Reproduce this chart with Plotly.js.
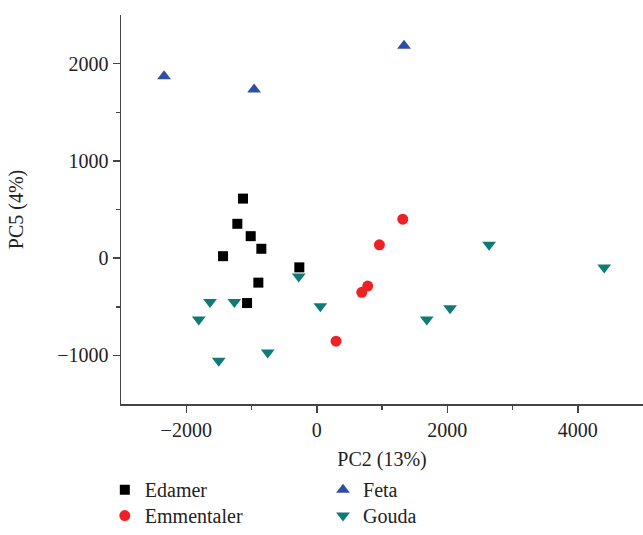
<!DOCTYPE html>
<html>
<head>
<meta charset="utf-8">
<script src="https://cdn.plot.ly/plotly-3.0.1.min.js"></script>
<style>html,body{margin:0;padding:0;background:#fff;}#chart{width:643px;height:535px;}</style>
</head>
<body>
<div id="chart"></div>
<script>
// Edamer
const edamerX = [-1130, -1217, -1012, -849, -1436, -895, -1068, -267];
const edamerY = [612, 353, 226, 96, 20, -252, -462, -95];
// Emmentaler
const emmentalerX = [1318, 960, 781, 690, 296];
const emmentalerY = [400, 137, -287, -352, -854];
// Feta
const fetaX = [-2340, -960, 1338];
const fetaY = [1870, 1735, 2185];
// Gouda
const goudaX = [-1636, -1263, -1808, -1502, -751, -276, 55, 1686, 2043, 2641, 4405];
const goudaY = [-450, -450, -630, -1055, -970, -190, -495, -630, -515, 138, -97];

const xTitle = 'PC2 (13%)';
const yTitle = 'PC5 (4%)';

const FONT = 'Liberation Serif, Times New Roman, serif';

const traces = [
  {x: edamerX, y: edamerY, name: 'Edamer', type: 'scatter', mode: 'markers', legend: 'legend',
   marker: {symbol: 'square', size: 10, color: '#000000'}},
  {x: emmentalerX, y: emmentalerY, name: 'Emmentaler', type: 'scatter', mode: 'markers', legend: 'legend3',
   marker: {symbol: 'circle', size: 11, color: '#ec2227'}},
  {x: fetaX, y: fetaY, name: 'Feta', type: 'scatter', mode: 'markers', legend: 'legend2',
   marker: {symbol: 'triangle-up', size: 12, color: '#2e4ea3'}},
  {x: goudaX, y: goudaY, name: 'Gouda', type: 'scatter', mode: 'markers', legend: 'legend4',
   marker: {symbol: 'triangle-down', size: 12, color: '#0f7b78'}}
];

const axisCommon = {
  showgrid: false, zeroline: false, showline: true, linecolor: '#444', linewidth: 1.5,
  ticks: 'outside', ticklen: 7, tickwidth: 1.5, tickcolor: '#444',
  tickfont: {family: FONT, size: 20, color: '#222'}
};

function leg(x, y, anchor) {
  return {x: x, xanchor: 'left', y: y, yanchor: anchor, orientation: 'v',
    font: {family: FONT, size: 20, color: '#222'}, bgcolor: 'rgba(0,0,0,0)', tracegroupgap: 0};
}

const layout = {
  width: 643, height: 535,
  margin: {l: 121, r: 0, t: 15, b: 131, autoexpand: false},
  paper_bgcolor: '#fff', plot_bgcolor: '#fff',
  font: {family: FONT, size: 20, color: '#222'},
  xaxis: Object.assign({}, axisCommon, {
    range: [-3000, 5000], tickvals: [-2000, 0, 2000, 4000], automargin: false,
    minor: {tickvals: [-1000, 1000, 3000], ticks: 'outside', ticklen: 4, tickwidth: 1.5, tickcolor: '#444'},
    title: {text: xTitle, font: {family: FONT, size: 20, color: '#222'}, standoff: 12}
  }),
  yaxis: Object.assign({}, axisCommon, {
    range: [-1500, 2500], tickvals: [-1000, 0, 1000, 2000], automargin: false,
    minor: {tickvals: [-500, 500, 1500], ticks: 'outside', ticklen: 4, tickwidth: 1.5, tickcolor: '#444'},
    title: {text: yTitle, font: {family: FONT, size: 20, color: '#222'}, standoff: 28}
  }),
  showlegend: true,
  legend: leg(-0.031, -0.17, 'top'),
  legend2: leg(0.387, -0.17, 'top'),
  legend3: leg(-0.031, -0.3368, 'bottom'),
  legend4: leg(0.387, -0.3368, 'bottom')
};

Plotly.newPlot('chart', traces, layout, {displayModeBar: false, staticPlot: true});
</script>
</body>
</html>
